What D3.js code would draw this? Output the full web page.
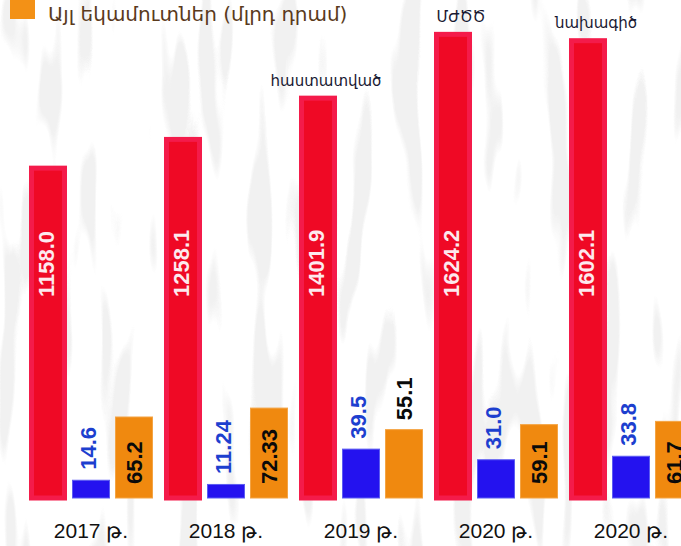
<!DOCTYPE html>
<html>
<head>
<meta charset="utf-8">
<script src="https://cdn.jsdelivr.net/npm/d3@7"></script>
<style>
  html, body { margin: 0; padding: 0; background: #fff; }
  svg { display: block; }
</style>
</head>
<body>
<div id="chart"></div>
<script>
// values
const categories = ['2017 թ.', '2018 թ.', '2019 թ.', '2020 թ.', '2020 թ.'];
const notes = ['', '', 'հաստատված', 'ՄԺԾԾ', 'նախագիծ'];
const taxValues = [1158.0, 1258.1, 1401.9, 1624.2, 1602.1];
const dutyValues = [14.6, 11.24, 39.5, 31.0, 33.8];
const otherValues = [65.2, 72.33, 55.1, 59.1, 61.7];
const taxLabels = ['1158.0', '1258.1', '1401.9', '1624.2', '1602.1'];
const dutyLabels = ['14.6', '11.24', '39.5', '31.0', '33.8'];
const otherLabels = ['65.2', '72.33', '55.1', '59.1', '61.7'];
const legendLabel = 'Այլ եկամուտներ (մլրդ դրամ)';

const width = 681, height = 546;
const baseY = 498;
const font = '"Liberation Sans", Arial, sans-serif';
const armFont = '"DejaVu Sans", "Noto Sans", sans-serif';

const svg = d3.select('#chart')
    .append('svg')
    .attr('width', width)
    .attr('height', height);

// rough stand-in for the grey rug texture behind the chart
svg.append('defs').html(`<filter id="rug" x="0" y="0" width="100%" height="100%"><feTurbulence type="fractalNoise" baseFrequency="0.04 0.006" numOctaves="2" seed="7"/><feColorMatrix type="matrix" values="0 0 0 0 0.88 0 0 0 0 0.88 0 0 0 0 0.88 14 0 0 0 -8.0"/></filter>`);
svg.append('rect').attr('width', width).attr('height', height).attr('fill', '#fff');
svg.append('rect').attr('width', width).attr('height', height).attr('filter', 'url(#rug)');

const series = ['tax', 'duty', 'other'];

const x0 = d3.scaleBand()
    .domain(d3.range(categories.length))
    .range([29, 29 + 135 * categories.length])
    .paddingInner(0);

const x1 = d3.scaleBand()
    .domain(series)
    .range([0, 124])
    .paddingInner(5 / 43);

const yBig = d3.scaleLinear().domain([0, 1700]).range([baseY, baseY - 1700 * 0.287]);
const ySmall = d3.scaleLinear().domain([0, 80]).range([baseY, baseY - 100]);

const rows = categories.map((c, i) => ({
    i, cat: c, note: notes[i],
    tax: taxValues[i], duty: dutyValues[i], other: otherValues[i],
    taxLabel: taxLabels[i], dutyLabel: dutyLabels[i], otherLabel: otherLabels[i]
}));

const groups = svg.append('g').selectAll('g')
    .data(rows)
    .join('g')
    .attr('transform', d => `translate(${x0(d.i)},0)`);

const bw = x1.bandwidth();

// red bars with lighter frame
groups.append('rect')
    .attr('x', x1('tax') + 2.5)
    .attr('y', d => yBig(d.tax) + 2.5)
    .attr('width', bw - 5)
    .attr('height', d => baseY - yBig(d.tax) - 2.5)
    .attr('fill', '#ef0925')
    .attr('stroke', '#f41b4a')
    .attr('stroke-width', 5);

groups.append('rect')
    .attr('x', x1('duty') + 0.5)
    .attr('y', d => ySmall(d.duty) + 0.5)
    .attr('width', bw - 1)
    .attr('height', d => baseY - ySmall(d.duty) - 0.5)
    .attr('fill', '#2412ef')
    .attr('stroke', '#5c5cf2')
    .attr('stroke-width', 1);

groups.append('rect')
    .attr('x', x1('other') + 0.5)
    .attr('y', d => ySmall(d.other) + 0.5)
    .attr('width', bw - 1)
    .attr('height', d => baseY - ySmall(d.other) - 0.5)
    .attr('fill', '#f0890f')
    .attr('stroke', '#f4a444')
    .attr('stroke-width', 1);

function vText(sel, cx, cy, anchor) {
    return sel.append('text')
        .attr('transform', d => `translate(${cx(d)},${cy(d)}) rotate(-90)`)
        .attr('text-anchor', anchor)
        .attr('dy', '0.36em')
        .attr('font-family', font)
        .attr('font-weight', 'bold')
        .attr('font-size', 22);
}

vText(groups, () => x1('tax') + bw / 2 - 2, () => 297, 'start')
    .attr('fill', '#fde9ee')
    .text(d => d.taxLabel);

vText(groups, () => x1('duty') + bw / 2 - 3, d => ySmall(d.duty) - 10, 'start')
    .attr('fill', '#1d3fcf')
    .text(d => d.dutyLabel);

// the label goes above the orange bar when it does not fit inside
const otherText = vText(groups, () => x1('other') + bw / 2, () => baseY - 14, 'start')
    .attr('fill', '#0a0a0a')
    .text(d => d.otherLabel);
otherText.each(function(d) {
    const len = this.getComputedTextLength();
    const h = baseY - ySmall(d.other);
    if (h < len + 28) {
        d3.select(this).attr('transform',
            `translate(${x1('other') + bw / 2},${ySmall(d.other) - 9}) rotate(-90)`);
    }
});

// notes above red bars
groups.filter(d => d.note)
    .append('text')
    .attr('x', x1('tax') + bw / 2 + 8)
    .attr('y', d => yBig(d.tax) - 10)
    .attr('text-anchor', 'middle')
    .attr('font-family', armFont)
    .attr('font-size', 15)
    .attr('fill', '#1a1a33')
    .text(d => d.note);

// category labels
groups.append('text')
    .attr('x', 62)
    .attr('y', 538)
    .attr('text-anchor', 'middle')
    .attr('font-family', font)
    .attr('font-size', 21)
    .attr('fill', '#111')
    .text(d => d.cat);

// legend
svg.append('rect')
    .attr('x', 10).attr('y', -1)
    .attr('width', 25).attr('height', 20)
    .attr('fill', '#f39116');

svg.append('text')
    .attr('x', 48).attr('y', 21)
    .attr('font-family', armFont)
    .attr('font-size', 20)
    .attr('fill', '#5a3a1c')
    .text(legendLabel);
</script>
</body>
</html>
